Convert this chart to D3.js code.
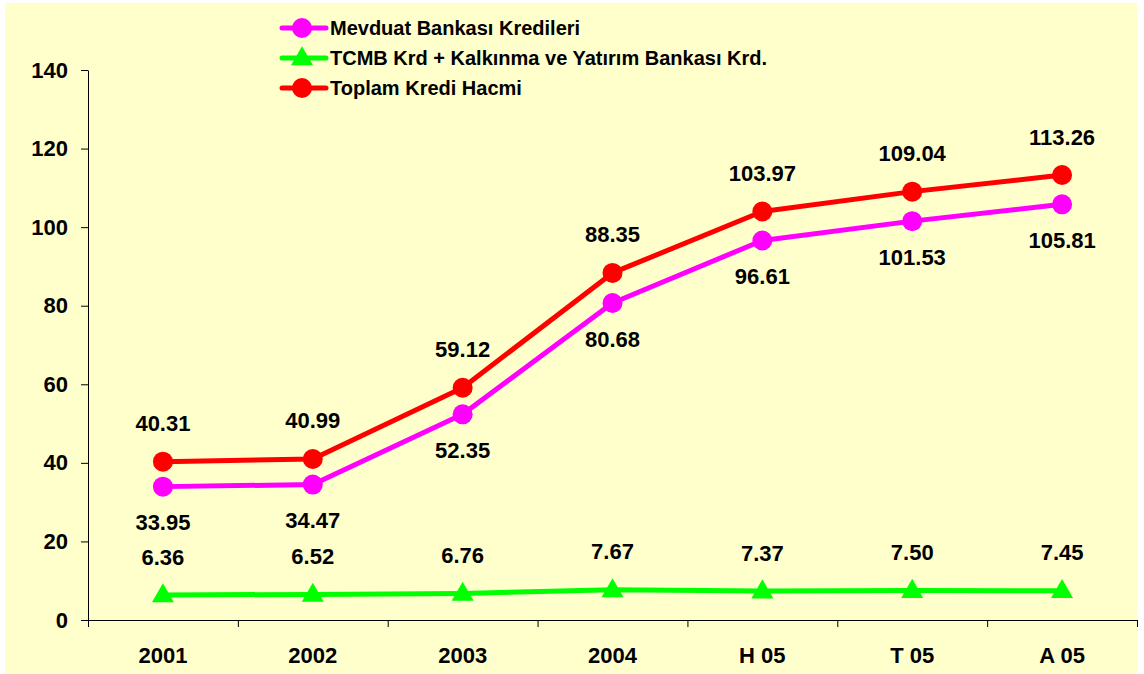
<!DOCTYPE html>
<html>
<head>
<meta charset="utf-8">
<script src="https://cdn.jsdelivr.net/npm/d3@7"></script>
<style>
  body { margin: 0; background: #fff; }
  svg { display: block; }
  .lbl { font-family: "Liberation Sans", Arial, sans-serif; font-weight: bold; font-size: 22px; fill: #000; }
  .leg { font-family: "Liberation Sans", Arial, sans-serif; font-weight: bold; font-size: 20px; fill: #000; }
</style>
</head>
<body>
<div id="root"></div>
<script>
const categories = ["2001", "2002", "2003", "2004", "H 05", "T 05", "A 05"];
const mevduat = [33.95, 34.47, 52.35, 80.68, 96.61, 101.53, 105.81];
const tcmb = [6.36, 6.52, 6.76, 7.67, 7.37, 7.50, 7.45];
const toplam = [40.31, 40.99, 59.12, 88.35, 103.97, 109.04, 113.26];
const yTicks = [0, 20, 40, 60, 80, 100, 120, 140];

const seriesNames = ["Mevduat Bankası Kredileri", "TCMB Krd + Kalkınma ve Yatırım Bankası Krd.", "Toplam Kredi Hacmi"];
const colors = ["#ff00ff", "#00ff00", "#ff0000"];

const w = 1144, h = 674;
const margin = {top: 70, bottom: 54, left: 88, right: 7};

const svg = d3.select("#root").append("svg")
    .attr("width", w)
    .attr("height", h);

// yellow plot background
svg.append("rect")
    .attr("x", 5).attr("y", 3)
    .attr("width", w - 12).attr("height", h - 3)
    .attr("fill", "#ffffcc");

const x = d3.scaleBand()
    .domain(categories)
    .range([margin.left, w - margin.right]);

const xEdge = d3.scaleLinear()
    .domain([0, categories.length])
    .range([margin.left, w - margin.right]);

const y = d3.scaleLinear()
    .domain([0, 140])
    .range([h - margin.bottom, margin.top]);

const cx = d => x(d) + x.bandwidth() / 2;

// y-axis
const yAxis = svg.append("g")
    .attr("transform", "translate(" + margin.left + ",0)")
    .call(d3.axisLeft(y).tickValues(yTicks).tickSize(7).tickPadding(13).tickSizeOuter(0));
yAxis.selectAll("text").attr("class", "lbl").attr("font-size", null).attr("font-family", null);

// x-axis: boundary ticks
svg.append("g")
    .attr("transform", "translate(0," + (h - margin.bottom) + ")")
    .call(d3.axisBottom(xEdge).tickValues(d3.range(categories.length + 1)).tickSize(7).tickFormat("").tickSizeOuter(0));

// x labels
const xAxis = svg.append("g")
    .attr("transform", "translate(0," + (h - margin.bottom) + ")")
    .call(d3.axisBottom(x).tickSize(0).tickPadding(27));
xAxis.select(".domain").remove();
xAxis.selectAll("text").attr("class", "lbl").attr("font-size", null).attr("font-family", null);

svg.selectAll(".domain, .tick line").attr("stroke", "#000");

const series = [
    {name: seriesNames[0], values: mevduat, color: colors[0], marker: "circle", dy: 36},
    {name: seriesNames[1], values: tcmb, color: colors[1], marker: "triangle", dy: -38},
    {name: seriesNames[2], values: toplam, color: colors[2], marker: "circle", dy: -38}
];

const line = d3.line()
    .x((d, i) => cx(categories[i]))
    .y(d => y(d));

const tri = d3.symbol().type(d3.symbolTriangle).size(210);

// draw green first, then magenta, then red on top
[series[1], series[0], series[2]].forEach(s => {
    svg.append("path")
        .datum(s.values)
        .attr("d", line)
        .attr("fill", "none")
        .attr("stroke", s.color)
        .attr("stroke-width", 5)
        .attr("stroke-linejoin", "round");

    const g = svg.append("g");
    if (s.marker === "circle") {
        g.selectAll("circle")
            .data(s.values)
            .enter()
            .append("circle")
            .attr("cx", (d, i) => cx(categories[i]))
            .attr("cy", d => y(d))
            .attr("r", 10)
            .attr("fill", s.color);
    } else {
        g.selectAll("path")
            .data(s.values)
            .enter()
            .append("path")
            .attr("d", tri)
            .attr("transform", (d, i) => "translate(" + cx(categories[i]) + "," + (y(d) + 1) + ")")
            .attr("fill", s.color);
    }

    svg.append("g").selectAll("text")
        .data(s.values)
        .enter()
        .append("text")
        .attr("class", "lbl")
        .attr("x", (d, i) => cx(categories[i]))
        .attr("y", d => y(d) + s.dy)
        .attr("text-anchor", "middle")
        .attr("dominant-baseline", "central")
        .text(d => d.toFixed(2));
});

// legend
const legend = svg.append("g").attr("id", "legend");
const legY = i => 28 + i * 30;
series.forEach((s, i) => {
    legend.append("line")
        .attr("x1", 282).attr("x2", 326)
        .attr("y1", legY(i)).attr("y2", legY(i))
        .attr("stroke", s.color)
        .attr("stroke-width", 5)
        .attr("stroke-linecap", "round");
    if (s.marker === "circle") {
        legend.append("circle")
            .attr("cx", 302).attr("cy", legY(i))
            .attr("r", 10)
            .attr("fill", s.color);
    } else {
        legend.append("path")
            .attr("d", tri)
            .attr("transform", "translate(302," + (legY(i) + 1) + ")")
            .attr("fill", s.color);
    }
    legend.append("text")
        .attr("class", "leg")
        .attr("x", 330)
        .attr("y", legY(i))
        .attr("dominant-baseline", "central")
        .text(s.name);
});
</script>
</body>
</html>
